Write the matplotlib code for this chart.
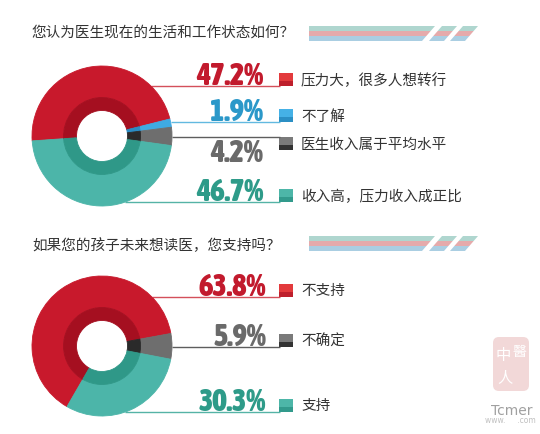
import numpy as np
import matplotlib
matplotlib.use("Agg")
import matplotlib.pyplot as plt
from matplotlib.patches import Rectangle, FancyBboxPatch
from matplotlib import font_manager
from matplotlib.font_manager import FontProperties
from matplotlib.textpath import TextPath

q1_title = "您认为医生现在的生活和工作状态如何？"
q1_labels = ["压力大，很多人想转行", "不了解", "医生收入属于平均水平", "收入高，压力收入成正比"]
q1_values = [47.2, 1.9, 4.2, 46.7]
q1_kinds = ["red", "blue", "gray", "teal"]

q2_title = "如果您的孩子未来想读医，您支持吗？"
q2_labels = ["不支持", "不确定", "支持"]
q2_values = [63.8, 5.9, 30.3]
q2_kinds = ["red", "gray", "teal"]

# outer ring, inner ring, percent text, leader line, square top, square bottom
PAL = {
    "red":  ("#C8192C", "#A50F20", "#C21A2D", "#D4505B", "#E33A3C", "#BE1F2C"),
    "blue": ("#3FAAE2", "#2A8CC4", "#2B98C9", "#62B9E0", "#45B1E6", "#2B8FC4"),
    "gray": ("#6E6E6E", "#2A2A2A", "#6A6A6A", "#5E5E5E", "#7A7A7A", "#333333"),
    "teal": ("#4CB5A9", "#2F9888", "#2E9B89", "#55B3A6", "#4DB6A8", "#329A8C"),
}
STRIPES = ["#AFD6CF", "#E5AAAB", "#AACEE2"]

W, H = 540, 435
CX, R, R_MID, R_HOLE, S = 102, 70, 38.5, 25.5, 75
SQ_X, SQ_W, SQ_H = 279, 14, 13


def weight_of(f):
    w = f.weight
    if isinstance(w, str):
        return font_manager.weight_dict.get(w, 400)
    return w


# the big percentages are in a narrow heavy face; use one if installed
narrow = [f for f in font_manager.fontManager.ttflist
          if "condensed" in str(f.stretch) or "Narrow" in f.name or "Condensed" in f.name]
narrow = [f for f in narrow if f.style == "normal"]
if narrow:
    best = max(narrow, key=weight_of)
    PCT_PROP = FontProperties(fname=best.fname)
else:
    PCT_PROP = FontProperties(family="Roboto", weight="black")
w_px = TextPath((0, 0), "47.2%", size=19, prop=PCT_PROP).get_extents().width * 100 / 72
PCT_SIZE = min(22, 19 * 69 / w_px)

plt.rcParams["font.family"] = ["Noto Sans CJK SC", "DejaVu Sans"]

fig = plt.figure(figsize=(W / 100, H / 100), dpi=100)
fig.patch.set_facecolor("white")
ov = fig.add_axes([0, 0, 1, 1])
ov.set_xlim(0, W); ov.set_ylim(H, 0); ov.axis("off")


def donut(cy, values, kinds, start):
    ax = fig.add_axes([(CX - S) / W, (H - cy - S) / H, 2 * S / W, 2 * S / H])
    for rad, width, k in ((R, R - R_MID, 0), (R_MID, R_MID - R_HOLE, 1)):
        wedges, _ = ax.pie(values, radius=rad, startangle=start, counterclock=False,
                           colors=[PAL[c][k] for c in kinds],
                           wedgeprops=dict(width=width, linewidth=0.6))
        for w in wedges:
            w.set_edgecolor(w.get_facecolor())
    ax.set_xlim(-S, S); ax.set_ylim(-S, S); ax.set_aspect("equal"); ax.axis("off")


def stripe(top):
    slant = 13 / 15
    pieces = [(309, 435, False), (442, 457, True), (463, 478, True)]
    for i, col in enumerate(STRIPES):
        y0, y1 = top + i * 5, top + i * 5 + 5
        for a, b, slanted in pieces:
            d0, d1 = (y0 - top) * slant, (y1 - top) * slant
            la0 = a - d0 if slanted else a
            la1 = a - d1 if slanted else a
            ov.fill([la0, b - d0, b - d1, la1], [y0, y0, y1, y1], color=col, lw=0)


def rows(cy, labels, values, kinds, line_ys, below, pct_right):
    for lab, v, k, y, bl in zip(labels, values, kinds, line_ys, below):
        p = PAL[k]
        x0 = CX + np.sqrt(R ** 2 - (y - cy) ** 2)
        ov.plot([x0, SQ_X + 1], [y, y], color=p[3], lw=1.0, solid_capstyle="butt")
        top = y if bl else y - SQ_H
        ov.add_patch(Rectangle((SQ_X, top), SQ_W, 8, color=p[4], lw=0))
        ov.add_patch(Rectangle((SQ_X, top + 8), SQ_W, SQ_H - 8, color=p[5], lw=0))
        ov.text(SQ_X + 22, top + SQ_H / 2, lab, fontsize=10.5, color="#333333",
                va="center", ha="left")
        ov.text(pct_right, y + 24 if bl else y - 2, f"{v:.1f}%",
                fontproperties=PCT_PROP, fontsize=PCT_SIZE, color=p[2],
                ha="right", va="baseline")


# panel 1
ov.text(32, 33, q1_title, fontsize=10.5, color="#333333", va="center")
stripe(27)
donut(137, q1_values, q1_kinds, 184)
rows(137, q1_labels, q1_values, q1_kinds, [87, 123, 138, 203],
     [False, False, True, False], 263)

# panel 2
ov.text(32, 245, q2_title, fontsize=10.5, color="#333333", va="center")
stripe(237)
donut(347, q2_values, q2_kinds, 240)
rows(347, q2_labels, q2_values, q2_kinds, [298, 348, 413],
     [False, False, False], 266)

# watermark
ov.add_patch(FancyBboxPatch((495, 340), 32, 50, boxstyle="round,pad=2,rounding_size=6",
                            color="#F2D8D8", lw=0))
ov.text(503, 356, "中", fontsize=11, color="white", ha="center", va="center")
ov.text(519, 352, "醫", fontsize=10, color="white", ha="center", va="center")
ov.text(505, 378, "人", fontsize=11, color="white", ha="center", va="center")
ov.text(512, 411, "Tcmer", fontsize=10, color="#A0A0A0", ha="center", va="center",
        family="DejaVu Sans")
ov.text(510, 421, "www.     .com", fontsize=5.5, color="#C0C0C0", ha="center",
        va="center", family="DejaVu Sans")

fig.savefig("out.png", dpi=100, facecolor="white")
